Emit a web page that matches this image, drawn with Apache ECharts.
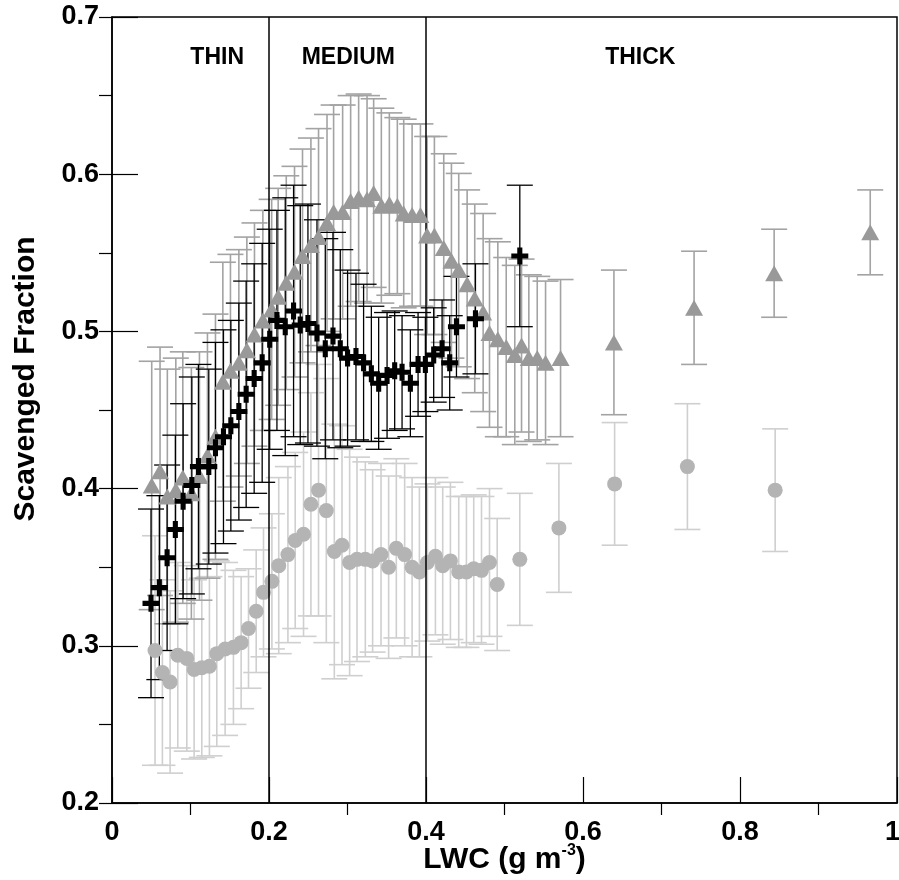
<!DOCTYPE html>
<html>
<head>
<meta charset="utf-8">
<script src="https://cdn.jsdelivr.net/npm/echarts@6/dist/echarts.min.js"></script>
<style>
html,body{margin:0;padding:0;background:#fff;}
#chart{width:899px;height:880px;}
</style>
</head>
<body>
<div id="chart"></div>
<script>
// ---- data ----
var triX = [0.0506,0.0612,0.0705,0.0813,0.0902,0.1011,0.1114,0.1216,0.1318,0.1412,0.1509,0.1616,0.1718,0.1815,0.1922,0.2034,0.2117,0.222,0.2325,0.2427,0.2534,0.2631,0.2739,0.2823,0.2938,0.304,0.3142,0.3249,0.3333,0.3431,0.3533,0.3635,0.3716,0.3823,0.3929,0.4014,0.4107,0.4226,0.4324,0.4417,0.4524,0.4621,0.4728,0.4809,0.4915,0.5022,0.5131,0.5217,0.531,0.5417,0.5523,0.5714,0.6394,0.7415,0.8435,0.9659];
var triY = [0.402,0.411,0.395,0.399,0.407,0.397,0.408,0.421,0.433,0.468,0.475,0.480,0.488,0.498,0.507,0.514,0.522,0.531,0.538,0.548,0.555,0.560,0.569,0.576,0.576,0.583,0.585,0.584,0.588,0.580,0.581,0.580,0.575,0.574,0.574,0.561,0.561,0.553,0.545,0.539,0.530,0.521,0.512,0.499,0.495,0.490,0.485,0.491,0.483,0.483,0.480,0.483,0.493,0.515,0.537,0.563];
var triErr = [0.079,0.079,0.081,0.084,0.080,0.080,0.079,0.078,0.078,0.076,0.074,0.072,0.072,0.071,0.070,0.070,0.069,0.068,0.067,0.068,0.068,0.069,0.069,0.068,0.068,0.067,0.066,0.066,0.060,0.062,0.058,0.056,0.060,0.058,0.058,0.063,0.063,0.060,0.062,0.0615,0.060,0.060,0.063,0.060,0.062,0.057,0.057,0.055,0.053,0.052,0.052,0.050,0.046,0.036,0.028,0.027];

var crossX = [0.0497,0.0603,0.0702,0.0807,0.0906,0.1017,0.1101,0.1233,0.1318,0.142,0.1514,0.1616,0.1709,0.1811,0.1913,0.2009,0.2101,0.2207,0.2313,0.2398,0.2496,0.2611,0.2717,0.2815,0.2908,0.3001,0.3108,0.3205,0.3304,0.3397,0.3504,0.3601,0.3695,0.3801,0.3899,0.3992,0.4098,0.4205,0.4302,0.4388,0.463,0.5195];
var crossY = [0.327,0.337,0.356,0.374,0.392,0.402,0.414,0.414,0.426,0.433,0.440,0.449,0.460,0.470,0.480,0.495,0.507,0.503,0.513,0.504,0.505,0.499,0.489,0.497,0.489,0.483,0.484,0.480,0.473,0.467,0.472,0.475,0.474,0.467,0.479,0.479,0.485,0.489,0.480,0.503,0.508,0.548];
var crossErr = [0.060,0.0585,0.059,0.060,0.062,0.069,0.065,0.062,0.067,0.068,0.067,0.069,0.072,0.073,0.076,0.070,0.070,0.082,0.080,0.076,0.076,0.072,0.070,0.066,0.063,0.056,0.053,0.050,0.043,0.042,0.040,0.038,0.036,0.034,0.033,0.030,0.030,0.031,0.030,0.032,0.035,0.045];

var circX = [0.0548,0.0642,0.074,0.0838,0.0953,0.1046,0.1144,0.1241,0.1335,0.1441,0.1547,0.1645,0.1739,0.1837,0.193,0.2037,0.2124,0.2241,0.2334,0.244,0.2534,0.2631,0.273,0.2832,0.293,0.3027,0.3121,0.3227,0.332,0.3427,0.3524,0.3622,0.3728,0.3823,0.3916,0.4018,0.412,0.4213,0.4311,0.4417,0.4515,0.4608,0.4707,0.4809,0.4907,0.5195,0.5693,0.6403,0.733,0.8448];
var circY = [0.297,0.283,0.277,0.294,0.292,0.285,0.286,0.287,0.295,0.298,0.299,0.302,0.311,0.322,0.334,0.341,0.351,0.358,0.367,0.371,0.390,0.399,0.386,0.360,0.364,0.353,0.355,0.355,0.354,0.358,0.350,0.362,0.358,0.350,0.347,0.353,0.357,0.351,0.354,0.347,0.347,0.349,0.348,0.353,0.339,0.355,0.375,0.403,0.414,0.399];
var circErr = [0.073,0.059,0.058,0.059,0.059,0.057,0.057,0.057,0.059,0.055,0.049,0.042,0.038,0.039,0.041,0.043,0.056,0.056,0.056,0.065,0.071,0.080,0.084,0.081,0.076,0.072,0.065,0.062,0.058,0.058,0.058,0.057,0.058,0.057,0.054,0.050,0.050,0.050,0.050,0.048,0.048,0.047,0.047,0.047,0.042,0.042,0.041,0.039,0.040,0.039];

var regionNames = ['THIN', 'MEDIUM', 'THICK'];
var regionX = [0.134, 0.301, 0.673];
var regionY = [0.674, 0.674, 0.674];
var regionBounds = [0.2, 0.4];

var xTicks = [0, 0.2, 0.4, 0.6, 0.8, 1];
var yTicks = [0.2, 0.3, 0.4, 0.5, 0.6, 0.7];

// ---- build ----
function zip3(a, b, c) { return a.map(function (v, i) { return [v, b[i], c[i]]; }); }
function zip2(a, b) { return a.map(function (v, i) { return [v, b[i]]; }); }

function errRender(color, width) {
  return function (params, api) {
    var x = api.value(0), y = api.value(1), e = api.value(2);
    var t = api.coord([x, y + e]);
    var b = api.coord([x, y - e]);
    var hw = 13;
    var st = { stroke: color, lineWidth: width };
    return {
      type: 'group',
      children: [
        { type: 'line', shape: { x1: t[0], y1: t[1], x2: b[0], y2: b[1] }, style: st },
        { type: 'line', shape: { x1: t[0] - hw, y1: t[1], x2: t[0] + hw, y2: t[1] }, style: st },
        { type: 'line', shape: { x1: b[0] - hw, y1: b[1], x2: b[0] + hw, y2: b[1] }, style: st }
      ]
    };
  };
}

var FONT = 'Arial, "Liberation Sans", sans-serif';
var plusPath = 'path://M3.5,0H6.5V3.5H10V6.5H6.5V10H3.5V6.5H0V3.5H3.5Z';
var xMax = xTicks[xTicks.length - 1];

var chart = echarts.init(document.getElementById('chart'), null, { renderer: 'canvas' });
var option = {
  animation: false,
  backgroundColor: '#fff',
  grid: { left: 112, right: 2, top: 17, bottom: 77, containLabel: false, outerBoundsMode: 'none',
    show: true, borderColor: '#000', borderWidth: 1.5, backgroundColor: 'transparent' },
  xAxis: [{
    type: 'value', min: xTicks[0], max: xMax, interval: 0.2, position: 'bottom',
    axisLine: { onZero: false, lineStyle: { color: '#000', width: 1.5 } },
    axisTick: { inside: true, length: 26, lineStyle: { color: '#000', width: 1.2 } },
    minorTick: { show: false },
    splitLine: { show: false },
    axisLabel: { color: '#000', fontFamily: FONT, fontWeight: 'bold', fontSize: 27, margin: 16,
      formatter: function (v) { return v === xMax ? '{r|' + v + '}' : String(v); },
      rich: { r: { color: '#000', fontFamily: FONT, fontWeight: 'bold', fontSize: 27, padding: [0, 9, 0, 0] } } },
    name: '{a|LWC (g m}{s|-3}{a|)}',
    nameLocation: 'middle', nameGap: 40, nameMoveOverlap: false,
    nameTextStyle: {
      verticalAlign: 'top',
      rich: {
        a: { fontFamily: FONT, fontWeight: 'bold', fontSize: 30, color: '#000', lineHeight: 34 },
        s: { fontFamily: FONT, fontWeight: 'bold', fontSize: 16, color: '#000', verticalAlign: 'top', lineHeight: 34, padding: [0, 0, 18, 0] }
      }
    }
  }, {
    type: 'value', min: xTicks[0], max: xMax, interval: 0.2, position: 'bottom',
    axisLine: { show: false, onZero: false },
    axisTick: { show: false },
    minorTick: { show: true, splitNumber: 2, length: 12, lineStyle: { color: '#000', width: 1.2 } },
    splitLine: { show: false },
    axisLabel: { show: false }
  }],
  yAxis: [{
    type: 'value', min: yTicks[0], max: yTicks[yTicks.length - 1], interval: 0.1, position: 'left',
    axisLine: { onZero: false, lineStyle: { color: '#000', width: 1.5 } },
    axisTick: { inside: true, length: 26, lineStyle: { color: '#000', width: 1.2 } },
    splitLine: { show: false },
    axisLabel: { color: '#000', fontFamily: FONT, fontWeight: 'bold', fontSize: 27, margin: 13,
      formatter: function (v) { return v.toFixed(1); } },
    name: 'Scavenged Fraction', nameLocation: 'middle', nameRotate: 90, nameGap: 71, nameMoveOverlap: false,
    nameTextStyle: { fontFamily: FONT, fontWeight: 'bold', fontSize: 30, color: '#000', padding: [0, 0, 0, 62] }
  }, {
    type: 'value', min: yTicks[0], max: yTicks[yTicks.length - 1], interval: 0.1, position: 'left',
    axisLine: { show: false, onZero: false },
    axisTick: { show: true, length: 13, lineStyle: { color: '#000', width: 1.2 } },
    minorTick: { show: true, splitNumber: 2, length: 13, lineStyle: { color: '#000', width: 1.2 } },
    splitLine: { show: false },
    axisLabel: { show: false }
  }],
  series: [
    { type: 'custom', name: 'circErr', renderItem: errRender('#cfcfcf', 1.6), data: zip3(circX, circY, circErr), encode: { x: 0, y: 1 }, clip: false, z: 1, silent: true },
    { type: 'custom', name: 'triErr', renderItem: errRender('#a3a3a3', 1.6), data: zip3(triX, triY, triErr), encode: { x: 0, y: 1 }, clip: false, z: 2, silent: true },
    { type: 'custom', name: 'crossErr', renderItem: errRender('#000000', 1.3), data: zip3(crossX, crossY, crossErr), encode: { x: 0, y: 1 }, clip: false, z: 3, silent: true },
    { type: 'scatter', name: 'circ', symbol: 'circle', symbolSize: 15, itemStyle: { color: '#b4b4b4', opacity: 1 }, data: zip2(circX, circY), z: 4, silent: true },
    { type: 'scatter', name: 'tri', symbol: 'triangle', symbolSize: [18, 16], itemStyle: { color: '#999999', opacity: 1 }, data: zip2(triX, triY), z: 5, silent: true },
    { type: 'scatter', name: 'cross', symbol: plusPath, symbolSize: 17, itemStyle: { color: '#000000', opacity: 1 }, data: zip2(crossX, crossY), z: 6, silent: true,
      markLine: { symbol: 'none', silent: true, label: { show: false }, lineStyle: { color: '#000', width: 1.5, type: 'solid' },
        data: regionBounds.map(function (v) { return { xAxis: v }; }) } },
    { type: 'scatter', name: 'regions', symbolSize: 0, silent: true, z: 7,
      itemStyle: { color: '#000', opacity: 1 },
      data: regionNames.map(function (n, i) { return { name: n, value: [regionX[i], regionY[i]] }; }),
      label: { show: true, position: 'inside', formatter: '{b}', color: '#000', opacity: 1, textBorderWidth: 0, fontFamily: FONT, fontWeight: 'bold', fontSize: 23 } }
  ]
};
chart.setOption(option);
</script>
</body>
</html>
